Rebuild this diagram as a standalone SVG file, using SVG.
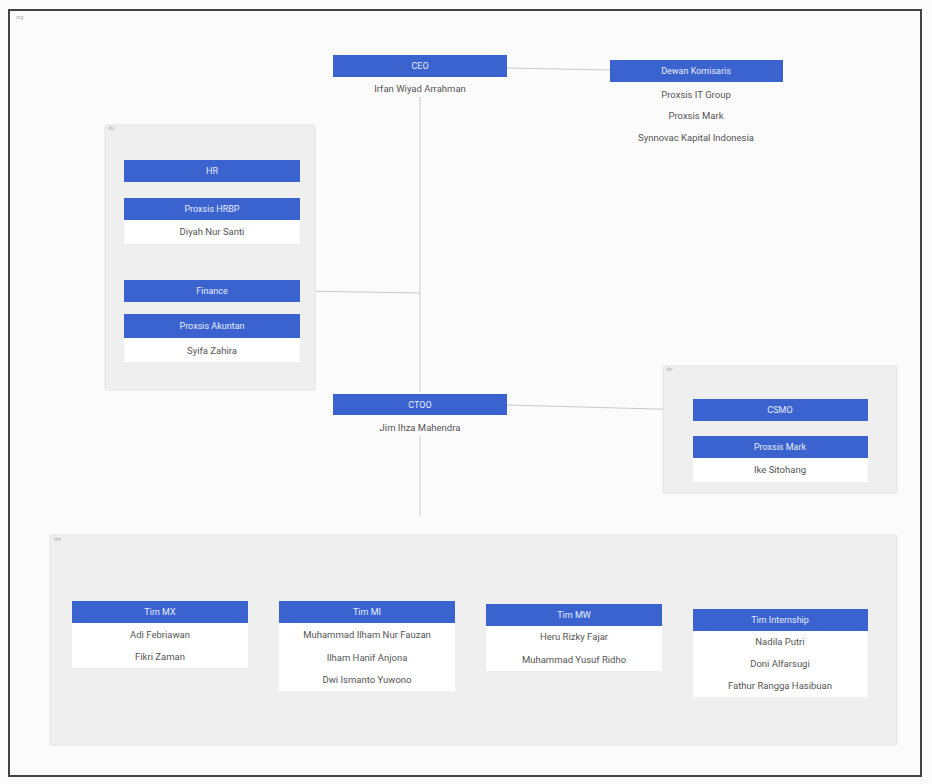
<svg xmlns="http://www.w3.org/2000/svg" width="932" height="784" viewBox="0 0 932 784">
<style>
.bg{fill:#fbfbfb}
.frame{fill:none;stroke:#444;stroke-width:2}
.panel{fill:#efefef;stroke:#e2e2e2;stroke-width:1}
.card{fill:#ffffff}
.bar{fill:#3b63cf}
.bt{font-family:Roboto,"Liberation Sans",sans-serif;font-size:9px;fill:#e6ecff;text-anchor:middle}
.nt{font-family:Roboto,"Liberation Sans",sans-serif;font-size:9.5px;fill:#555;text-anchor:middle}
.tiny{font-family:Roboto,"Liberation Sans",sans-serif;font-size:5px;fill:#aaa}
.con{stroke:#c8c8c8;stroke-width:1;fill:none}
</style>
<rect class="bg" x="0" y="0" width="932" height="784"/>
<rect class="frame" x="9" y="10" width="912" height="766"/>
<text class="tiny" x="16" y="19">org</text>

<g id="connectors">
<line class="con" x1="420" y1="97" x2="420" y2="392"/>
<line class="con" x1="420" y1="436" x2="420" y2="516"/>
<line class="con" x1="507" y1="68" x2="610" y2="70"/>
<line class="con" x1="300" y1="291" x2="420" y2="293"/>
<line class="con" x1="507" y1="405" x2="693" y2="410"/>
</g>

<g id="ceo">
<rect class="bar" x="333" y="55" width="174" height="22"/>
<text class="bt" x="420" y="69">CEO</text>
<text class="nt" x="420" y="92">Irfan Wiyad Arrahman</text>
</g>

<g id="dewan-komisaris">
<rect class="bar" x="610" y="60" width="173" height="22"/>
<text class="bt" x="696" y="74">Dewan Komisaris</text>
<text class="nt" x="696" y="98">Proxsis IT Group</text>
<text class="nt" x="696" y="119">Proxsis Mark</text>
<text class="nt" x="696" y="141">Synnovac Kapital Indonesia</text>
</g>

<g id="group-hr-finance">
<rect class="panel" x="105" y="125" width="210" height="265" rx="2"/>
<text class="tiny" x="108" y="130">div</text>
<rect class="card" x="124" y="198" width="176" height="46"/>
<rect class="card" x="124" y="314" width="176" height="48"/>
<g id="hr">
<rect class="bar" x="124" y="160" width="176" height="22"/>
<text class="bt" x="212" y="174">HR</text>
</g>
<g id="proxsis-hrbp">
<rect class="bar" x="124" y="198" width="176" height="22"/>
<text class="bt" x="212" y="212">Proxsis HRBP</text>
<text class="nt" x="212" y="235">Diyah Nur Santi</text>
</g>
<g id="finance">
<rect class="bar" x="124" y="280" width="176" height="22"/>
<text class="bt" x="212" y="294">Finance</text>
</g>
<g id="proxsis-akuntan">
<rect class="bar" x="124" y="314" width="176" height="24"/>
<text class="bt" x="212" y="329">Proxsis Akuntan</text>
<text class="nt" x="212" y="354">Syifa Zahira</text>
</g>
</g>

<g id="ctoo">
<rect class="bar" x="333" y="394" width="174" height="21"/>
<text class="bt" x="420" y="408">CTOO</text>
<text class="nt" x="420" y="431">Jim Ihza Mahendra</text>
</g>

<g id="group-csmo">
<rect class="panel" x="663" y="366" width="234" height="127" rx="2"/>
<text class="tiny" x="666" y="371">div</text>
<rect class="card" x="693" y="436" width="175" height="46"/>
<g id="csmo">
<rect class="bar" x="693" y="399" width="175" height="22"/>
<text class="bt" x="780" y="413">CSMO</text>
</g>
<g id="proxsis-mark">
<rect class="bar" x="693" y="436" width="175" height="22"/>
<text class="bt" x="780" y="450">Proxsis Mark</text>
<text class="nt" x="780" y="473">Ike Sitohang</text>
</g>
</g>

<g id="group-tim">
<rect class="panel" x="50" y="535" width="847" height="210" rx="2"/>
<text class="tiny" x="54" y="541">tim</text>
<g id="tim-mx">
<rect class="card" x="72" y="601" width="176" height="67"/>
<rect class="bar" x="72" y="601" width="176" height="22"/>
<text class="bt" x="160" y="615">Tim MX</text>
<text class="nt" x="160" y="638">Adi Febriawan</text>
<text class="nt" x="160" y="660">Fikri Zaman</text>
</g>
<g id="tim-mi">
<rect class="card" x="279" y="601" width="176" height="90"/>
<rect class="bar" x="279" y="601" width="176" height="22"/>
<text class="bt" x="367" y="615">Tim MI</text>
<text class="nt" x="367" y="638">Muhammad Ilham Nur Fauzan</text>
<text class="nt" x="367" y="661">Ilham Hanif Anjona</text>
<text class="nt" x="367" y="683">Dwi Ismanto Yuwono</text>
</g>
<g id="tim-mw">
<rect class="card" x="486" y="604" width="176" height="67"/>
<rect class="bar" x="486" y="604" width="176" height="22"/>
<text class="bt" x="574" y="618">Tim MW</text>
<text class="nt" x="574" y="640">Heru Rizky Fajar</text>
<text class="nt" x="574" y="663">Muhammad Yusuf Ridho</text>
</g>
<g id="tim-internship">
<rect class="card" x="693" y="609" width="175" height="88"/>
<rect class="bar" x="693" y="609" width="175" height="22"/>
<text class="bt" x="780" y="623">Tim Internship</text>
<text class="nt" x="780" y="645">Nadila Putri</text>
<text class="nt" x="780" y="667">Doni Alfarsugi</text>
<text class="nt" x="780" y="689">Fathur Rangga Hasibuan</text>
</g>
</g>
</svg>
